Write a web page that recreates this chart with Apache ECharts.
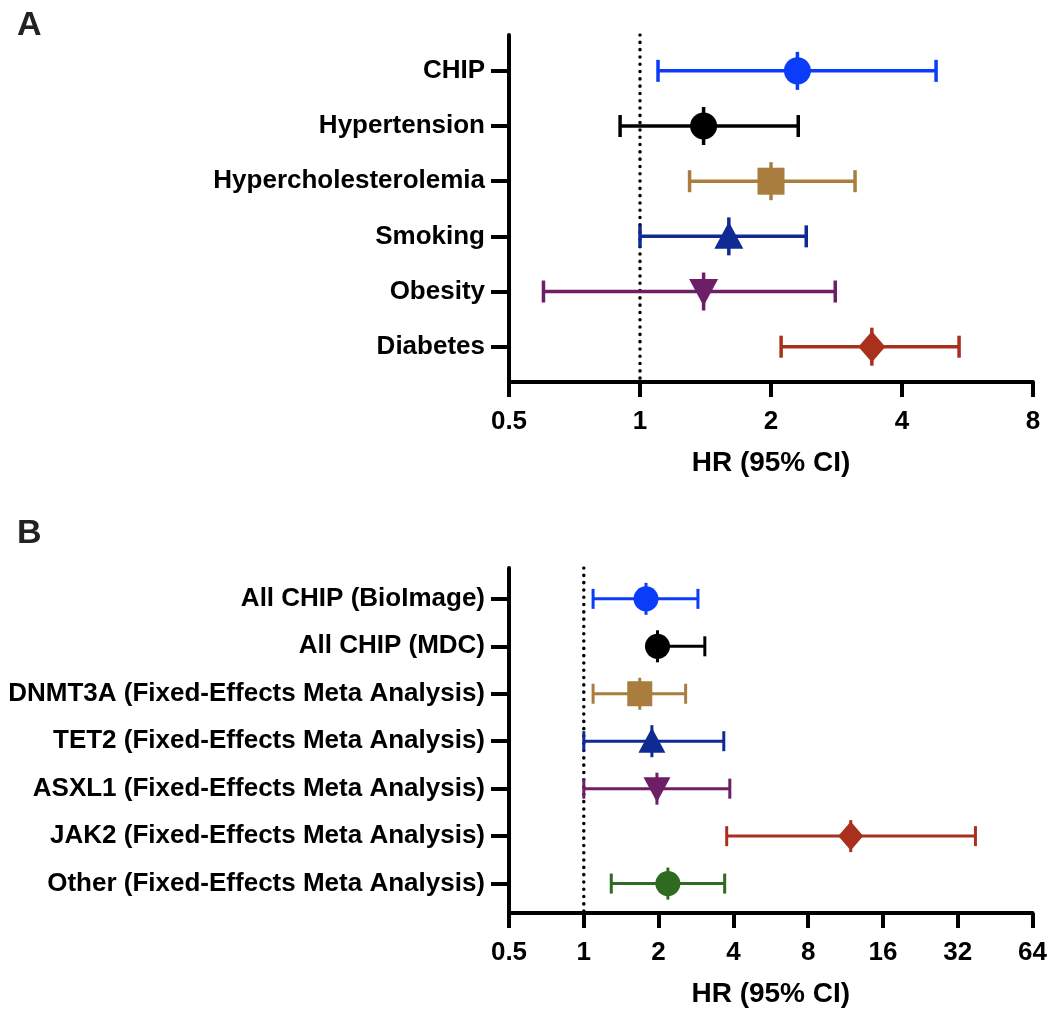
<!DOCTYPE html>
<html><head><meta charset="utf-8">
<script src="https://cdn.jsdelivr.net/npm/echarts@6/dist/echarts.min.js"></script>
<style>html,body{margin:0;padding:0;background:#fff}#c{width:1050px;height:1013px}</style>
</head><body><div id="c"></div>
<script>
// ---------- data ----------
const catsA = ['CHIP','Hypertension','Hypercholesterolemia','Smoking','Obesity','Diabetes'];
const hrA = [2.30, 1.40, 2.00, 1.60, 1.40, 3.41];
const loA = [1.10, 0.90, 1.30, 1.00, 0.60, 2.11];
const hiA = [4.79, 2.31, 3.12, 2.41, 2.81, 5.41];
const ticksA = [0.5, 1, 2, 4, 8];

const catsB = ['All CHIP (BioImage)','All CHIP (MDC)','DNMT3A (Fixed-Effects Meta Analysis)','TET2 (Fixed-Effects Meta Analysis)','ASXL1 (Fixed-Effects Meta Analysis)','JAK2 (Fixed-Effects Meta Analysis)','Other (Fixed-Effects Meta Analysis)'];
const hrB = [1.78, 1.98, 1.68, 1.88, 1.97, 11.87, 2.18];
const loB = [1.09, 1.90, 1.09, 1.00, 1.00, 3.76, 1.29];
const hiB = [2.88, 3.07, 2.57, 3.66, 3.87, 37.7, 3.69];
const ticksB = [0.5, 1, 2, 4, 8, 16, 32, 64];

const axisTitle = 'HR (95% CI)';

// ---------- styles ----------
const colorsA = ['#0a3cfa','#000000','#a87d3e','#0f2a92','#6c1e66','#a8301c'];
const shapesA = ['circle','circle','square','triangle','down','diamond'];
const colorsB = ['#0a3cfa','#000000','#a87d3e','#0f2a92','#6c1e66','#a8301c','#2e6a1f'];
const shapesB = ['circle','circle','square','triangle','down','diamond','circle'];
const FONT = '"Liberation Sans", Arial, sans-serif';

function markerShape(shape, x, y, s, color) {
  const h = s / 2;
  if (shape === 'circle') return {type:'circle', shape:{cx:x, cy:y, r:h}, style:{fill:color}};
  if (shape === 'square') return {type:'rect', shape:{x:x-h, y:y-h, width:s, height:s}, style:{fill:color}};
  if (shape === 'triangle') return {type:'polygon', shape:{points:[[x, y-h-1],[x+h+1, y+h-1],[x-h-1, y+h-1]]}, style:{fill:color}};
  if (shape === 'down') return {type:'polygon', shape:{points:[[x-h-1, y-h+1],[x+h+1, y-h+1],[x, y+h+1]]}, style:{fill:color}};
  return {type:'polygon', shape:{points:[[x, y-h-2],[x+h, y],[x, y+h+2],[x-h, y]]}, style:{fill:color}};
}

function makeRender(shapes, colors, capH, lw, msize, stemH) {
  return function (params, api) {
    const i = params.dataIndex;
    const row = api.value(3);
    const p0 = api.coord([api.value(0), row]);
    const p1 = api.coord([api.value(1), row]);
    const pc = api.coord([api.value(2), row]);
    const c = colors[i];
    const ls = {stroke:c, lineWidth:lw};
    return {type:'group', children:[
      {type:'line', shape:{x1:p0[0], y1:p0[1], x2:p1[0], y2:p1[1]}, style:ls},
      {type:'line', shape:{x1:p0[0], y1:p0[1]-capH, x2:p0[0], y2:p0[1]+capH}, style:ls},
      {type:'line', shape:{x1:p1[0], y1:p1[1]-capH, x2:p1[0], y2:p1[1]+capH}, style:ls},
      {type:'line', shape:{x1:pc[0], y1:pc[1]-stemH, x2:pc[0], y2:pc[1]+stemH}, style:ls},
      markerShape(shapes[i], pc[0], pc[1], msize, c)
    ]};
  };
}

function rows(n){ const r=[]; for(let i=1;i<=n;i++) r.push(i); return r; }

function xAxisCfg(gi, maxV, ticks) {
  return {
    gridIndex: gi, type:'log', logBase:2, min:0.5, max:maxV,
    axisLine:{lineStyle:{color:'#000', width:4}},
    axisTick:{customValues:ticks, length:15, lineStyle:{color:'#000', width:4}},
    axisLabel:{customValues:ticks, margin:27, color:'#000', fontSize:26, fontWeight:'bold', fontFamily:FONT,
      formatter: v => String(v)},
    splitLine:{show:false}, minorTick:{show:false},
    name: axisTitle, nameLocation:'middle', nameGap:67,
    nameTextStyle:{color:'#000', fontSize:28, fontWeight:'bold', fontFamily:FONT}
  };
}
function yAxisCfg(gi, cats, minV, maxV) {
  const vals = rows(cats.length);
  return {
    gridIndex: gi, type:'value', inverse:true, min:minV, max:maxV,
    axisLine:{show:true, lineStyle:{color:'#000', width:4}},
    axisTick:{show:true, customValues:vals, length:18, lineStyle:{color:'#000', width:4}},
    axisLabel:{customValues:vals, margin:24, color:'#000', fontSize:26, fontWeight:'bold', fontFamily:FONT,
      formatter: v => cats[Math.round(v)-1] || ''},
    splitLine:{show:false}
  };
}

const dataA = hrA.map((v,i)=>[loA[i], hiA[i], v, i+1]);
const dataB = hrB.map((v,i)=>[loB[i], hiB[i], v, i+1]);

const minA = 0.35, maxA = 6.64, minB = 0.35, maxB = 7.62;

const option = {
  animation:false,
  backgroundColor:'#fff',
  title:[
    {text:'A', left:12, top:4, textStyle:{fontSize:34, fontWeight:'bold', color:'#222', fontFamily:FONT}},
    {text:'B', left:12, top:512, textStyle:{fontSize:34, fontWeight:'bold', color:'#222', fontFamily:FONT}}
  ],
  grid:[
    {left:509, right:17, top:35, height:347},
    {left:509, right:17, top:568, height:345}
  ],
  xAxis:[xAxisCfg(0, 8, ticksA), xAxisCfg(1, 64, ticksB)],
  yAxis:[yAxisCfg(0, catsA, minA, maxA), yAxisCfg(1, catsB, minB, maxB)],
  series:[
    {type:'line', xAxisIndex:0, yAxisIndex:0, data:[[1,minA],[1,maxA]], symbol:'none', silent:true,
      lineStyle:{color:'#000', width:3.5, type:[0.1,7.2], cap:'round'}, z:1},
    {type:'line', xAxisIndex:1, yAxisIndex:1, data:[[1,minB],[1,maxB]], symbol:'none', silent:true,
      lineStyle:{color:'#000', width:3.5, type:[0.1,7.2], cap:'round'}, z:1},
    {type:'custom', xAxisIndex:0, yAxisIndex:0, data:dataA, encode:{x:[0,1,2], y:3},
      renderItem: makeRender(shapesA, colorsA, 11, 3.5, 27, 19), z:3},
    {type:'custom', xAxisIndex:1, yAxisIndex:1, data:dataB, encode:{x:[0,1,2], y:3},
      renderItem: makeRender(shapesB, colorsB, 10, 3, 25, 16), z:3}
  ]
};
const chart = echarts.init(document.getElementById('c'), null, {renderer:'canvas'});
chart.setOption(option);
</script></body></html>
